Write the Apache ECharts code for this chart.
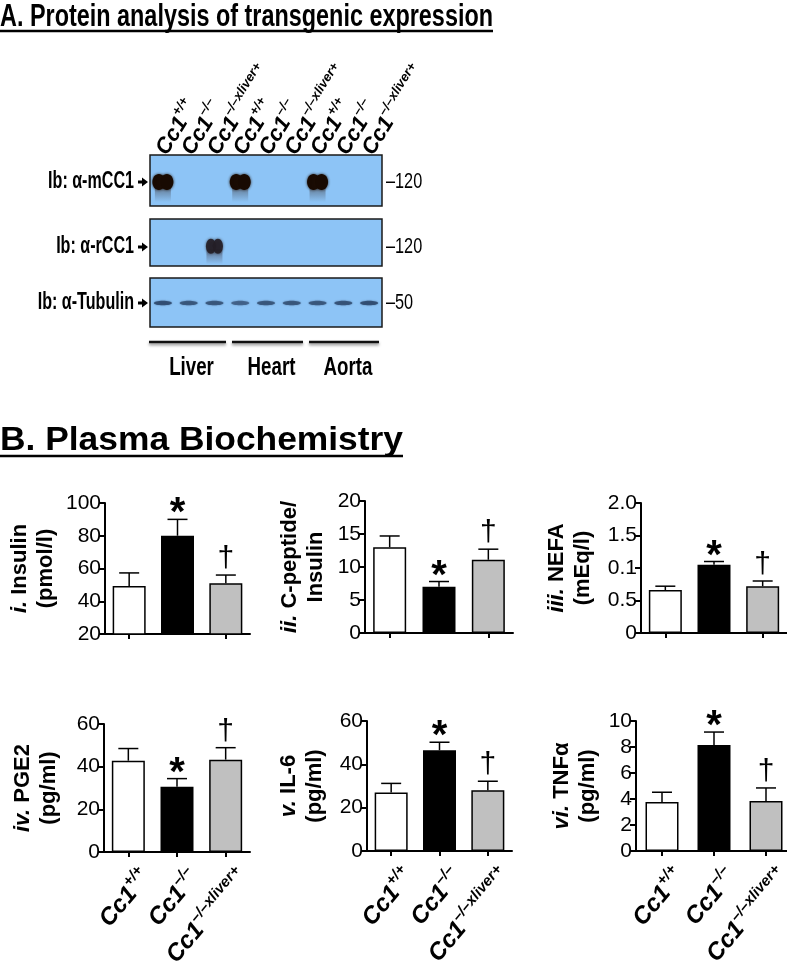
<!DOCTYPE html>
<html><head><meta charset="utf-8">
<script src="https://cdn.jsdelivr.net/npm/echarts@6/dist/echarts.min.js"></script>
<style>html,body{margin:0;padding:0;background:#fff}#c{width:787px;height:964px}</style>
</head><body><div id="c"></div>
<script>
// ---------------- DATA ----------------
const groups = ['Cc1+/+', 'Cc1–/–', 'Cc1–/–xliver+'];
const groupSup = ['+/+', '–/–', '–/–xliver+'];
const laneGroups = ['Cc1+/+', 'Cc1–/–', 'Cc1–/–xliver+', 'Cc1+/+', 'Cc1–/–', 'Cc1–/–xliver+', 'Cc1+/+', 'Cc1–/–', 'Cc1–/–xliver+'];
const laneSup = ['+/+', '–/–', '–/–xliver+', '+/+', '–/–', '–/–xliver+', '+/+', '–/–', '–/–xliver+'];
const tissues = ['Liver', 'Heart', 'Aorta'];
const blotRows = ['Ib: α-mCC1', 'Ib: α-rCC1', 'Ib: α-Tubulin'];
const mwMarkers = ['120', '120', '50'];
const mCC1Signal = [1, 0, 0, 1, 0, 0, 1, 0, 0];
const rCC1Signal = [0, 0, 0.9, 0, 0, 0, 0, 0, 0];
const tubulinSignal = [0.8, 0.7, 0.7, 0.6, 0.7, 0.7, 0.7, 0.75, 0.8];

const insulinMean = [49.3, 80.0, 51.0];
const insulinSem = [8.0, 10.0, 5.0];
const cpepMean = [13.0, 7.0, 11.1];
const cpepSem = [1.7, 0.8, 1.6];
const nefaMean = [0.66, 1.05, 0.72];
const nefaSem = [0.06, 0.05, 0.08];
const nefaTickLabels = ['0', '0.5', '0.1', '1.5', '2.0'];
const pge2Mean = [42.8, 30.6, 43.3];
const pge2Sem = [5.7, 3.8, 5.6];
const il6Mean = [27.0, 46.5, 28.0];
const il6Sem = [4.2, 3.7, 4.2];
const tnfMean = [3.77, 8.15, 3.85];
const tnfSem = [0.75, 1.0, 1.0];
const sigMarks = ['', '*', '†'];

// ---------------- STYLE / LAYOUT ----------------
const FONT = '"Liberation Sans", Arial, Helvetica, sans-serif';
const barColors = ['#ffffff', '#000000', '#c0c0c0'];
const mctx = document.createElement('canvas').getContext('2d');
function textW(t, font) { mctx.font = font; return mctx.measureText(t).width; }

const panels = [
  {name: '{it|i.} {b|Insulin}\n{b|(pmol/l)}', mean: insulinMean, sem: insulinSem, min: 20, max: 100, interval: 20,
   grid: {left: 105, top: 503, width: 145, height: 131}, nameGap: 46, xlabels: false},
  {name: '{it|ii.} {b|C-peptide/}\n{b|Insulin}', mean: cpepMean, sem: cpepSem, min: 0, max: 20, interval: 5,
   grid: {left: 365, top: 501, width: 148, height: 132}, nameGap: 36, xlabels: false},
  {name: '{it|iii.} {b|NEFA}\n{b|(mEq/l)}', mean: nefaMean, sem: nefaSem, min: 0, max: 2, interval: 0.5,
   grid: {left: 641, top: 503, width: 146, height: 130}, nameGap: 45, xlabels: false, tickLabels: nefaTickLabels},
  {name: '{it|iv.} {b|PGE2}\n{b|(pg/ml)}', mean: pge2Mean, sem: pge2Sem, min: 0, max: 60, interval: 20,
   grid: {left: 104, top: 724, width: 146, height: 128}, nameGap: 42, xlabels: true},
  {name: '{it|v.} {b|IL-6}\n{b|(pg/ml)}', mean: il6Mean, sem: il6Sem, min: 0, max: 60, interval: 20,
   grid: {left: 367, top: 721, width: 145, height: 130}, nameGap: 39, xlabels: true},
  {name: '{it|vi.} {b|TNFα}\n{b|(pg/ml)}', mean: tnfMean, sem: tnfSem, min: 0, max: 10, interval: 2,
   grid: {left: 636, top: 721, width: 156, height: 130}, nameGap: 35, xlabels: true}
];

const blotGrids = [
  {left: 150, top: 155, width: 232, height: 51},
  {left: 150, top: 219, width: 232, height: 47},
  {left: 150, top: 278, width: 232, height: 49}
];

const grids = [], xAxes = [], yAxes = [], series = [];

panels.forEach((p, k) => {
  grids.push(Object.assign({containLabel: false, outerBoundsMode: 'none'}, p.grid));
  xAxes.push({
    type: 'category', gridIndex: k, data: groups,
    axisLine: {show: true, lineStyle: {color: '#000', width: 2}},
    axisTick: {show: true, alignWithLabel: true, length: 5, lineStyle: {color: '#000', width: 2}},
    axisLabel: p.xlabels ? {
      show: true, interval: 0, rotate: 50, margin: 40, padding: [0, -26, 0, 0],
      formatter: (v, i) => '{c|Cc1}{s|' + groupSup[i] + '}',
      rich: {
        c: {fontFamily: FONT, fontSize: 24, fontWeight: 'bold', fontStyle: 'italic', color: '#000', lineHeight: 28, verticalAlign: 'bottom'},
        s: {fontFamily: FONT, fontSize: 15, fontWeight: 'bold', fontStyle: 'italic', color: '#000', lineHeight: 16, verticalAlign: 'top'}
      }
    } : {show: false}
  });
  yAxes.push({
    type: 'value', gridIndex: k, min: p.min, max: p.max, interval: p.interval,
    axisLine: {show: true, lineStyle: {color: '#000', width: 2}},
    axisTick: {show: true, length: 6, lineStyle: {color: '#000', width: 2}},
    splitLine: {show: false},
    axisLabel: {fontFamily: FONT, fontSize: 21, color: '#000', margin: 4,
      formatter: p.tickLabels ? (v => p.tickLabels[Math.round(v / p.interval)]) : (v => String(v))},
    name: p.name, nameLocation: 'middle', nameRotate: 90, nameGap: p.nameGap,
    nameTextStyle: {fontFamily: FONT, fontSize: 22, fontWeight: 'bold', color: '#000', lineHeight: 26,
      rich: {
        it: {fontFamily: FONT, fontSize: 22, fontWeight: 'bold', fontStyle: 'italic', color: '#000', lineHeight: 26},
        b: {fontFamily: FONT, fontSize: 22, fontWeight: 'bold', color: '#000', lineHeight: 26}
      }}
  });
  series.push({
    type: 'bar', xAxisIndex: k, yAxisIndex: k, barWidth: 33, data: p.mean,
    itemStyle: {color: prm => barColors[prm.dataIndex], borderColor: '#000', borderWidth: 1.5},
    silent: true, animation: false
  });
  series.push({
    type: 'custom', xAxisIndex: k, yAxisIndex: k, animation: false, silent: true, z: 5,
    data: p.mean.map((m, i) => [i, m, p.sem[i]]),
    renderItem: (params, api) => {
      const i = api.value(0), m = api.value(1), s = api.value(2);
      const b = api.coord([i, m]), t = api.coord([i, m + s]);
      const ch = [
        {type: 'line', shape: {x1: b[0], y1: b[1], x2: t[0], y2: t[1]}, style: {stroke: '#000', lineWidth: 1.5}},
        {type: 'line', shape: {x1: t[0] - 10, y1: t[1], x2: t[0] + 10, y2: t[1]}, style: {stroke: '#000', lineWidth: 1.5}}
      ];
      const mk = sigMarks[params.dataIndex];
      if (mk === '*') {
        ch.push({type: 'text', x: t[0], y: t[1] + 15, style: {text: '*', font: 'bold 40px ' + FONT, align: 'center', verticalAlign: 'bottom', fill: '#000'}});
      } else if (mk === '†') {
        ch.push({type: 'text', x: t[0], y: t[1] - 1, style: {text: '†', font: '30px ' + FONT, align: 'center', verticalAlign: 'bottom', fill: '#000'}});
      }
      return {type: 'group', children: ch};
    }
  });
});

// ---------------- BLOT ----------------
const blotSignals = [mCC1Signal, rCC1Signal, tubulinSignal];
blotGrids.forEach((g, r) => {
  const gi = panels.length + r;
  grids.push(Object.assign({show: true, outerBoundsMode: 'none', backgroundColor: '#8dc4f6', borderColor: '#1a1a1a', borderWidth: 1.5}, g));
  xAxes.push(r === 0 ? {
    type: 'category', gridIndex: gi, data: laneGroups, position: 'top',
    axisLine: {show: false}, axisTick: {show: false},
    axisLabel: {
      show: true, interval: 0, rotate: 58, margin: 8, padding: [0, 0, 0, -6],
      formatter: (v, i) => '{c|Cc1}{s|' + laneSup[i] + '}',
      rich: {
        c: {fontFamily: FONT, fontSize: 22, fontWeight: 'bold', fontStyle: 'italic', color: '#000', lineHeight: 26, verticalAlign: 'bottom'},
        s: {fontFamily: FONT, fontSize: 13, fontWeight: 'bold', fontStyle: 'italic', color: '#000', lineHeight: 13, verticalAlign: 'top'}
      }
    }
  } : {type: 'category', gridIndex: gi, data: laneGroups, show: false});
  yAxes.push({type: 'value', gridIndex: gi, min: 0, max: 1, show: false});
  series.push({
    type: 'custom', xAxisIndex: gi, yAxisIndex: gi, animation: false, silent: true,
    data: blotSignals[r].map((v, i) => [i, v]),
    renderItem: (params, api) => {
      const v = api.value(1);
      if (!v) return null;
      const L = api.value(0);
      if (r === 0) {
        const c = api.coord([L, 0.47]);
        const dark = 'rgba(24,10,2,' + v + ')';
        return {type: 'group', children: [
          {type: 'rect', shape: {x: c[0] - 8, y: c[1] + 3, width: 16, height: 17},
           style: {fill: new echarts.graphic.LinearGradient(0, 0, 0, 1, [{offset: 0, color: 'rgba(50,40,40,0.55)'}, {offset: 1, color: 'rgba(50,40,40,0)'}])}},
          {type: 'ellipse', shape: {cx: c[0] - 4, cy: c[1], rx: 6.5, ry: 8}, style: {fill: dark, shadowBlur: 3, shadowColor: 'rgba(30,15,5,0.9)'}},
          {type: 'ellipse', shape: {cx: c[0] + 4, cy: c[1], rx: 6.5, ry: 8}, style: {fill: dark, shadowBlur: 3, shadowColor: 'rgba(30,15,5,0.9)'}}
        ]};
      } else if (r === 1) {
        const c = api.coord([L, 0.42]);
        return {type: 'group', children: [
          {type: 'rect', shape: {x: c[0] - 8, y: c[1] + 3, width: 16, height: 15},
           style: {fill: new echarts.graphic.LinearGradient(0, 0, 0, 1, [{offset: 0, color: 'rgba(60,55,70,0.6)'}, {offset: 1, color: 'rgba(60,55,70,0)'}])}},
          {type: 'ellipse', shape: {cx: c[0] - 3.5, cy: c[1], rx: 5, ry: 7.5}, style: {fill: 'rgba(35,30,38,' + v + ')', shadowBlur: 3, shadowColor: 'rgba(35,30,38,0.8)'}},
          {type: 'ellipse', shape: {cx: c[0] + 3.5, cy: c[1], rx: 5, ry: 7.5}, style: {fill: 'rgba(35,30,38,' + v + ')', shadowBlur: 3, shadowColor: 'rgba(35,30,38,0.8)'}}
        ]};
      } else {
        const c = api.coord([L, 0.49]);
        return {type: 'ellipse', shape: {cx: c[0], cy: c[1], rx: 9, ry: 2.3},
          style: {fill: 'rgba(40,65,100,' + v + ')', shadowBlur: 2, shadowColor: 'rgba(40,65,100,0.7)'}};
      }
    }
  });
});

// ---------------- GRAPHIC TEXT ----------------
const titleA = 'A. Protein analysis of transgenic expression';
const titleAFont = 'bold 32px ' + FONT;
const titleB = 'B. Plasma Biochemistry';
const titleBFont = 'bold 34px ' + FONT;
const graphics = [
  {type: 'text', x: 0, y: 17, scaleX: 493 / textW(titleA, titleAFont), style: {text: titleA, font: titleAFont, fill: '#000', align: 'left', verticalAlign: 'middle'}},
  {type: 'line', shape: {x1: 0, y1: 31, x2: 493, y2: 31}, style: {stroke: '#000', lineWidth: 2.5}},
  {type: 'text', x: 0, y: 441, scaleX: 403 / textW(titleB, titleBFont), style: {text: titleB, font: titleBFont, fill: '#000', align: 'left', verticalAlign: 'middle'}},
  {type: 'line', shape: {x1: 0, y1: 456, x2: 403, y2: 456}, style: {stroke: '#000', lineWidth: 2.5}}
];
const rowY = [182, 247, 303];
blotRows.forEach((t, r) => {
  const y = rowY[r];
  graphics.push({type: 'text', x: 134, y: y, scaleX: 0.7, style: {text: t, font: 'bold 23px ' + FONT, fill: '#000', align: 'right', verticalAlign: 'middle'}});
  graphics.push({type: 'polygon', shape: {points: [[138, y - 1.5], [142, y - 1.5], [142, y - 4.5], [148, y], [142, y + 4.5], [142, y + 1.5], [138, y + 1.5]]}, style: {fill: '#000'}});
  graphics.push({type: 'text', x: 386, y: y, scaleX: 0.74, style: {text: '–' + mwMarkers[r], font: '22px ' + FONT, fill: '#000', align: 'left', verticalAlign: 'middle'}});
});
const tissueSpans = [[149, 226], [232, 303], [309, 379]];
tissues.forEach((t, k) => {
  const s = tissueSpans[k];
  graphics.push({type: 'line', shape: {x1: s[0], y1: 342, x2: s[1], y2: 342}, style: {stroke: '#111', lineWidth: 2.5, shadowBlur: 3, shadowOffsetY: 2, shadowColor: 'rgba(0,0,0,0.45)'}});
  graphics.push({type: 'text', x: (s[0] + s[1]) / 2 + 4, y: 368, scaleX: 0.72, style: {text: t, font: 'bold 26px ' + FONT, fill: '#000', align: 'center', verticalAlign: 'middle'}});
});

const chart = echarts.init(document.getElementById('c'));
chart.setOption({
  animation: false,
  backgroundColor: '#fff',
  grid: grids, xAxis: xAxes, yAxis: yAxes, series: series,
  graphic: graphics
});
</script>
</body></html>
